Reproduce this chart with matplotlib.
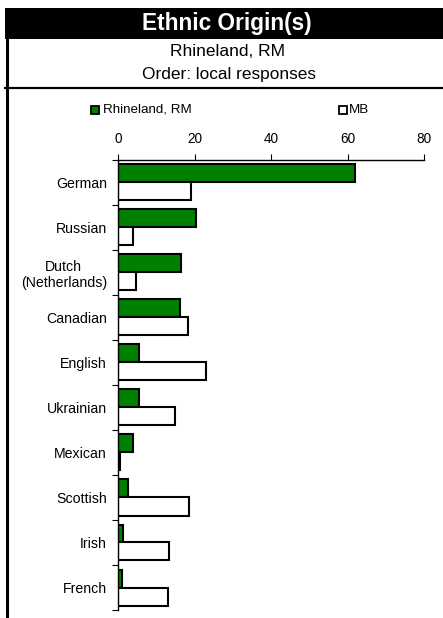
import numpy as np
import matplotlib
matplotlib.use("Agg")
import matplotlib.pyplot as plt
from matplotlib.patches import Rectangle
from matplotlib.lines import Line2D

plt.rcParams['font.family'] = ['Liberation Sans', 'DejaVu Sans']

categories = ['German', 'Russian', 'Dutch\n(Netherlands)', 'Canadian', 'English',
              'Ukrainian', 'Mexican', 'Scottish', 'Irish', 'French']
local_vals = [62.0, 20.5, 16.5, 16.3, 5.6, 5.5, 4.0, 2.5, 1.2, 1.0]
mb_vals = [19.0, 3.9, 4.8, 18.2, 23.0, 14.8, 0.4, 18.5, 13.4, 13.2]
x_ticks = [0, 20, 40, 60, 80]

W, H = 443, 618
fig = plt.figure(figsize=(W / 100, H / 100), dpi=100)


def fx(px):
    return px / W


def fy(py):
    return 1 - py / H


# header band and frame lines
fig.add_artist(Rectangle((fx(5), fy(39)), fx(438), 31 / H, transform=fig.transFigure,
                         facecolor='black', edgecolor='none'))
fig.add_artist(Line2D([fx(6.5), fx(6.5)], [fy(39), fy(618)], transform=fig.transFigure,
                      color='black', linewidth=2.2))
fig.add_artist(Line2D([fx(5), fx(443)], [fy(88), fy(88)], transform=fig.transFigure,
                      color='black', linewidth=1.6))

fig.text(fx(227), fy(23.5), 'Ethnic Origin(s)', color='white', fontsize=16.3,
         fontweight='bold', ha='center', va='center')
fig.text(fx(227), fy(52), 'Rhineland, RM', fontsize=12.5, ha='center', va='center')
fig.text(fx(229), fy(75), 'Order: local responses', fontsize=12.4, ha='center', va='center')

# legend
fig.add_artist(Rectangle((fx(91), fy(114)), 8 / W, 8 / H, transform=fig.transFigure,
                         facecolor='#008000', edgecolor='black', linewidth=1.3))
fig.text(fx(103), fy(110), 'Rhineland, RM', fontsize=9.6, ha='left', va='center')
fig.add_artist(Rectangle((fx(339), fy(114)), 8 / W, 8 / H, transform=fig.transFigure,
                         facecolor='white', edgecolor='black', linewidth=1.3))
fig.text(fx(349), fy(110), 'MB', fontsize=9.6, ha='left', va='center')

ax = fig.add_axes([fx(118), fy(610), fx(424) - fx(118), fy(160) - fy(610)])

y = np.arange(len(categories))
bh = 0.4
ax.barh(y - bh / 2, local_vals, height=bh, color='#008000', edgecolor='black', linewidth=1.5)
ax.barh(y + bh / 2, mb_vals, height=bh, color='white', edgecolor='black', linewidth=1.5)

ax.set_xlim(0, 80)
ax.set_ylim(len(categories) - 0.5, -0.5)

ax.xaxis.tick_top()
ax.set_xticks(x_ticks)
ax.set_xticklabels([str(t) for t in x_ticks], fontsize=9.8)
ax.tick_params(axis='x', direction='out', length=4, width=0.8, pad=6)

ax.set_yticks(y)
ax.set_yticklabels(categories, fontsize=10.2, ha='right')
ax.tick_params(axis='y', which='major', length=0, pad=8)
ax.set_yticks(np.arange(-0.5, len(categories) + 0.5, 1), minor=True)
ax.tick_params(axis='y', which='minor', direction='out', length=4, width=0.8)

for side in ['right', 'bottom']:
    ax.spines[side].set_visible(False)
ax.spines['left'].set_linewidth(1.0)
ax.spines['top'].set_linewidth(1.0)
for lbl in ax.get_yticklabels():
    lbl.set_multialignment('center')

fig.savefig('out.png', dpi=100)
